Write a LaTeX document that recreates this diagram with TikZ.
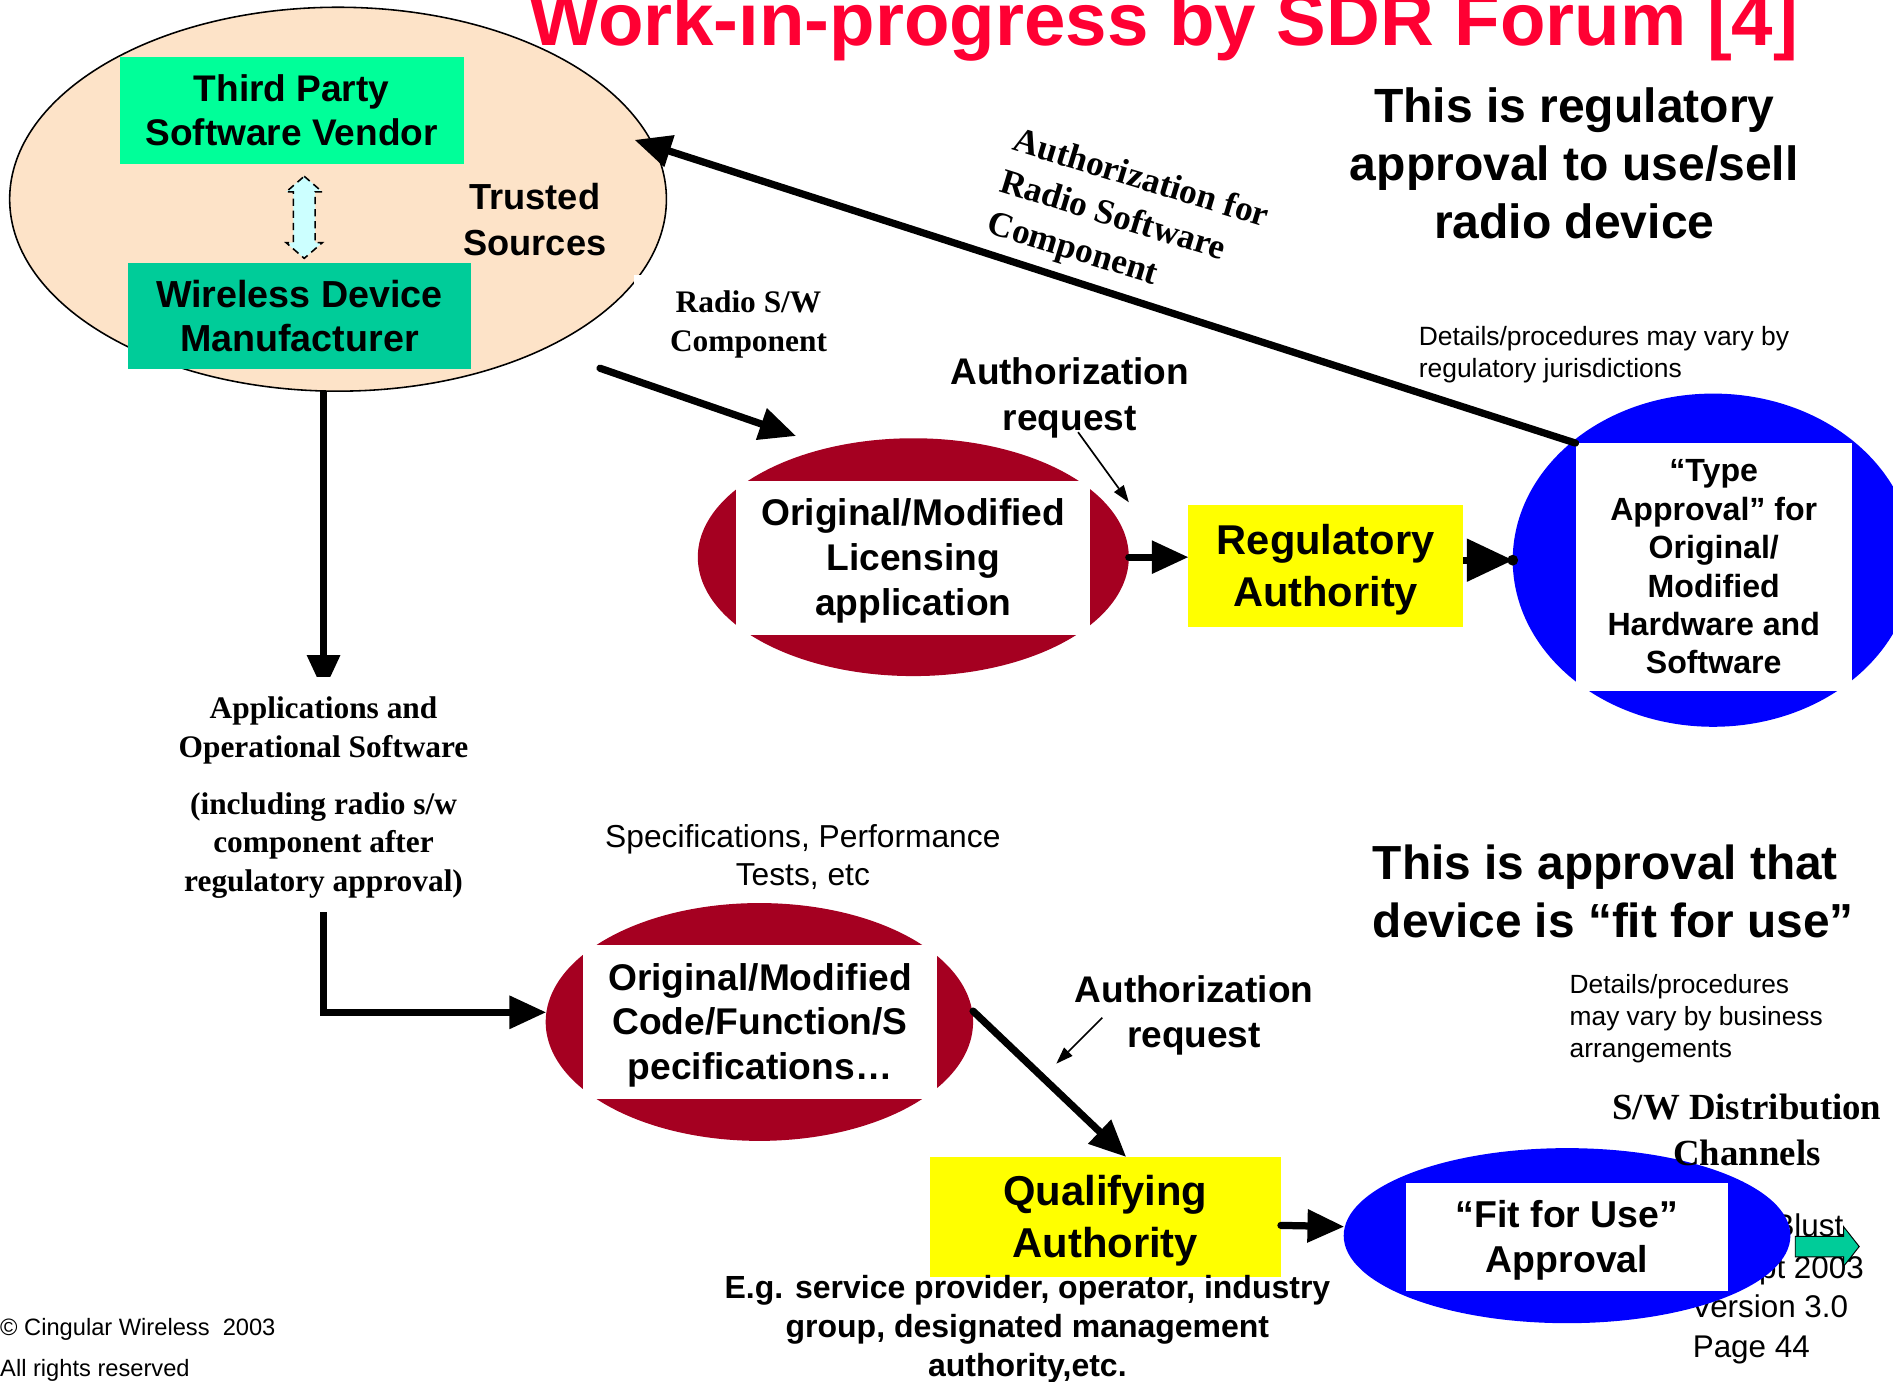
\documentclass[tikz,border=0pt]{standalone}
\usepackage{fontspec}
\setmainfont{Liberation Sans}
\newfontfamily\timesfam{Liberation Serif}
\usetikzlibrary{shapes.geometric, arrows.meta, positioning, calc, backgrounds}

\definecolor{titlered}{RGB}{255,0,51}
\definecolor{peach}{RGB}{253,227,200}
\definecolor{vendorgreen}{RGB}{0,255,153}
\definecolor{makergreen}{RGB}{0,204,153}
\definecolor{swapcyan}{RGB}{204,255,255}
\definecolor{appred}{RGB}{165,0,33}
\definecolor{authyellow}{RGB}{255,255,0}
\definecolor{approvalblue}{RGB}{0,0,255}

% full ascent/descent of the font, so text blocks centre on their line boxes
\newcommand{\fullstrut}{\rule[-0.212em]{0pt}{1.117em}}

\begin{document}
\begin{tikzpicture}[
      x=1pt, y=-1pt,
      boxtext/.style={inner sep=0pt, execute at end node=\fullstrut},
      boldsans/.style 2 args={boxtext, align=center, font=\bfseries\fontsize{#1}{#2}\selectfont},
      plainsans/.style 2 args={boxtext, align=center, font=\fontsize{#1}{#2}\selectfont},
      boldserif/.style 2 args={boxtext, align=center, font=\timesfam\bfseries\fontsize{#1}{#2}\selectfont},
      block/.style={rectangle, inner sep=0pt, outer sep=0pt},
      oval/.style={ellipse, inner sep=0pt, outer sep=0pt},
      bigarrow/.style={line width=6pt, line cap=round, -{Triangle[length=30pt, width=28pt, line width=0pt]}},
      thinarrow/.style={line width=1.4pt, -{Triangle[length=14pt, width=10pt, line width=0pt]}}
    ]
    \useasboundingbox (0,0) rectangle (1568,1144);
    \clip (0,0) rectangle (1568,1144);

    \node[font=\bfseries\fontsize{61.7}{70}\selectfont, text=titlered, inner sep=0pt, anchor=base west] (title) at (438,38) {Work-in-progress by SDR Forum [4]};

    % trusted sources
    \node[oval, draw, line width=1.3pt, fill=peach, minimum width=544pt, minimum height=318pt] (trusted) at (280,165) {};
    \node[block, fill=vendorgreen, minimum width=285pt, minimum height=89pt, boldsans={30.7}{36}] (vendor) at (241.5,91.5) {\fullstrut Third Party\\Software Vendor};
    \node[block, fill=makergreen, minimum width=284pt, minimum height=88pt, boldsans={31.2}{37}, below=82pt of vendor, xshift=6.5pt] (maker) {\fullstrut Wireless Device\\Manufacturer};
    \draw[dash pattern=on 6pt off 4pt, line width=1.3pt, fill=swapcyan]
      (252,146) -- (267,159) -- (261,159) -- (261,201) -- (267,201) -- (252,214)
      -- (237,201) -- (243,201) -- (243,159) -- (237,159) -- cycle;
    \node[boldsans={30}{38}] (trustlbl) at (443,182) {\fullstrut Trusted\\Sources};
    \node[boldserif={26}{33}, fill=white, minimum width=190pt, minimum height=76pt] (radiosw) at (620,266) {\fullstrut Radio S/W\\Component};

    % licensing and type approval
    \node[oval, fill=appred, minimum width=357pt, minimum height=197pt] (licell) at (756.5,461.5) {};
    \node[block, fill=white, minimum width=293pt, minimum height=128pt, boldsans={30.8}{37}] (lictext) at (756.5,462) {\fullstrut Original/Modified\\Licensing\\application};
    \node[block, fill=authyellow, minimum width=228pt, minimum height=101pt, boldsans={34.5}{43}] (regauth) at (1098,468.5) {\fullstrut Regulatory\\Authority};
    \node[oval, fill=approvalblue, minimum width=332pt, minimum height=276pt] (typeell) at (1419,464) {};
    \node[block, fill=white, minimum width=229pt, minimum height=205pt, boldsans={26.6}{31.8}] (typetext) at (1419.5,469.5) {\fullstrut “Type\\Approval” for\\Original/\\Modified\\Hardware and\\Software};

    \node[boldsans={30.7}{38}] (authreqA) at (886,327) {\fullstrut Authorization\\request};
    \node[boldsans={39.8}{48}] (regnote) at (1304,136) {\fullstrut This is regulatory\\approval to use/sell\\radio device};
    \node[plainsans={21.9}{26}, align=left, anchor=west] (detailsA) at (1175,292) {\fullstrut Details/procedures may vary by\\regulatory jurisdictions};
    \node[boldserif={29.2}{36}, align=left, rotate=-17] (authlbl) at (935,181) {\fullstrut Authorization for\\Radio Software\\Component};

    % software path
    \node[boldserif={26}{32}, fill=white, inner ysep=11pt] (appsw) at (268,658) {\fullstrut Applications and\\Operational Software\\[15pt](including radio s/w\\component after\\regulatory approval)};
    \node[plainsans={26.3}{31}] (specs) at (665,708.5) {\fullstrut Specifications, Performance\\Tests, etc};
    \node[oval, fill=appred, minimum width=354pt, minimum height=197pt] (codeell) at (629,846.5) {};
    \node[block, fill=white, minimum width=293pt, minimum height=127pt, boldsans={30.8}{37}] (codetext) at (629.5,846.5) {\fullstrut Original/Modified\\Code/Function/S\\pecifications…};
    \node[boldsans={30.7}{37}] (authreqB) at (989,838.5) {\fullstrut Authorization\\request};
    \node[boldsans={39.6}{48}, align=left, anchor=west] (fitnote) at (1137,739) {\fullstrut This is approval that\\device is “fit for use”};
    \node[plainsans={21.8}{26.5}, align=left, anchor=west] (detailsB) at (1300,841.5) {\fullstrut Details/procedures\\may vary by business\\arrangements};

    \node[block, fill=authyellow, minimum width=291pt, minimum height=100pt, boldsans={34.6}{43}] (qualauth) at (915.5,1008) {\fullstrut Qualifying\\Authority};
    \node[boldsans={26.5}{32.5}] (qualnote) at (851,1098.5) {\fullstrut E.g. service provider, operator, industry\\group, designated management\\authority,etc.};

    % slide footer, partly under the fit-for-use oval
    \node[plainsans={26}{30}, anchor=east] (author) at (1527,1015) {\fullstrut Blust};
    \node[plainsans={26}{30}, anchor=east] (date) at (1544,1050) {\fullstrut pt 2003};
    \node[plainsans={26}{30}, anchor=east] (version) at (1531,1082) {\fullstrut Version 3.0};
    \node[plainsans={26}{30}, anchor=west] (page) at (1402,1115) {\fullstrut Page 44};

    \node[oval, fill=approvalblue, minimum width=370pt, minimum height=145pt] (fitell) at (1298,1023.5) {};
    \node[block, fill=white, minimum width=266pt, minimum height=89pt, boldsans={31}{37}] (fittext) at (1298,1024.5) {\fullstrut “Fit for Use”\\Approval};
    \node[boldserif={30.5}{38}] (swdist) at (1447,936) {\fullstrut S/W Distribution\\Channels};

    \draw[line width=0.8pt, fill=makergreen] (1487,1024) -- (1527,1024) -- (1527,1016) -- (1540,1032.5)
      -- (1527,1049) -- (1527,1041) -- (1487,1041) -- cycle;
    \node[plainsans={19.6}{34}, align=left, anchor=west] (copyright) at (0,1116) {\fullstrut © Cingular Wireless~~2003\\All rights reserved};

    % connectors
    \coordinate (trustin) at (526,116);
    \coordinate (swtail) at (497,305);
    \coordinate (swtip) at (659,361);
    \coordinate (reqtailA) at (893,358);
    \coordinate (reqtipA) at (935,416);
    \coordinate (reqtailB) at (913,843);
    \coordinate (reqtipB) at (875,881);

    \draw[bigarrow] (typetext.north west) -- (trustin);
    \draw[bigarrow] (swtail) -- (swtip);
    \draw[thinarrow] (reqtailA) -- (reqtipA);
    \draw[bigarrow] (licell.east) -- (licell.east -| regauth.west);
    \draw[line width=6pt, -{Triangle[length=38pt, width=36pt, line width=0pt]}] (regauth.east |- typeell.west) -- (typeell.west);
    \fill (typeell.west) circle (4.5pt);
    \draw[bigarrow] ([yshift=9pt]codeell.east) -- ([xshift=17pt]qualauth.north);
    \draw[thinarrow] (reqtailB) -- (reqtipB);
    \draw[bigarrow] ([yshift=-7pt]qualauth.east) -- ([yshift=7.5pt]fitell.west);
    \begin{pgfonlayer}{background}
      \draw[bigarrow] (trusted.south -| appsw.north) -- ([yshift=-12pt]appsw.north);
      \draw[bigarrow] ([yshift=10pt]appsw.south) |- ([yshift=8pt]codeell.west);
    \end{pgfonlayer}
  \end{tikzpicture}
\end{document}
